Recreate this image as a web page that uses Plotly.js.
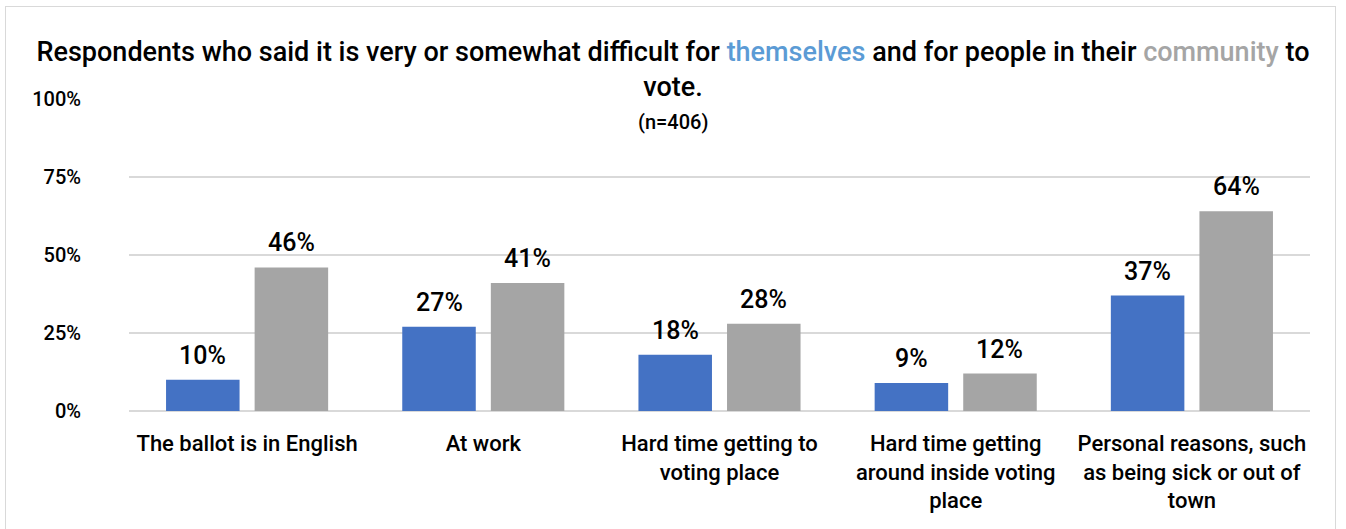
<!DOCTYPE html>
<html>
<head>
<meta charset="utf-8">
<script src="https://cdn.plot.ly/plotly-3.0.1.min.js"></script>
<style>
  html, body { margin: 0; padding: 0; background: #ffffff; }
  #wrap { position: relative; width: 1346px; height: 529px; overflow: hidden; }
  #frame { position: absolute; left: 5px; top: 6px; width: 1331px; height: 560px; border: 1.5px solid #d9d9d9; box-sizing: border-box; }
  #chart { position: absolute; left: 0; top: 0; width: 1346px; height: 529px; }
</style>
</head>
<body>
<div id="wrap"><div id="frame"></div><div id="chart"></div></div>
<script>
const categories = [
  "The ballot is in English",
  "At work",
  "Hard time getting to<br>voting place",
  "Hard time getting<br>around inside voting<br>place",
  "Personal reasons, such<br>as being sick or out of<br>town"
];
const themselves = [10, 27, 18, 9, 37];
const community = [46, 41, 28, 12, 64];
const yTicks = [0, 25, 50, 75, 100];
const yTickLabels = ["0%", "25%", "50%", "75%", "100%"];

const FONT = "Roboto, 'DejaVu Sans Condensed', sans-serif";
const W = 500;

const PLOT_W = 1181, BARGAP = 0.25, GROUPGAP = 0.17;
const slotPx = (1 - BARGAP) * (PLOT_W / categories.length) / 2;

const data = [
  { type: "bar", name: "Themselves", x: categories, y: themselves, marker: { color: "#4472C4" }, hoverinfo: "skip" },
  { type: "bar", name: "Community", x: categories, y: community, marker: { color: "#A5A5A5" }, hoverinfo: "skip" }
];

const labelAnn = [];
[themselves, community].forEach((vals, si) => {
  vals.forEach((v, i) => {
    labelAnn.push({
      x: categories[i], y: v, xref: "x", yref: "y",
      text: v + "%",
      showarrow: false,
      xanchor: "center", yanchor: "bottom",
      xshift: (si === 0 ? -1 : 1) * slotPx / 2,
      yshift: 8,
      font: { family: FONT, size: 25, color: "#000000", weight: W }
    });
  });
});

const layout = {
  width: 1346,
  height: 529,
  margin: { l: 129, r: 36, t: 99, b: 118 },
  paper_bgcolor: "rgba(0,0,0,0)",
  plot_bgcolor: "rgba(0,0,0,0)",
  showlegend: false,
  barmode: "group",
  bargap: BARGAP,
  bargroupgap: GROUPGAP,
  font: { family: FONT, color: "#000000", weight: W },
  title: {
    text: "Respondents who said it is very or somewhat difficult for <span style='color:#5B9BD5'>themselves</span> and for people in their <span style='color:#A5A5A5'>community</span> to<br>vote.",
    font: { family: FONT, size: 27, color: "#000000", weight: W },
    x: 0.5, xanchor: "center",
    y: 0.885, yanchor: "top", yref: "container"
  },
  annotations: labelAnn.concat([{
    text: "(n=406)",
    xref: "paper", yref: "paper",
    x: (673 - 129) / 1181, y: (411 - 122) / 312,
    xanchor: "center", yanchor: "middle",
    showarrow: false,
    font: { family: FONT, size: 20, color: "#000000", weight: W }
  }]),
  xaxis: {
    tickfont: { family: FONT, size: 22, color: "#000000", weight: W },
    showline: false,
    ticks: "",
    ticklabelstandoff: 17,
    automargin: false
  },
  yaxis: {
    range: [0, 100],
    tickvals: yTicks,
    ticktext: yTickLabels,
    tickfont: { family: FONT, size: 20, color: "#000000", weight: W },
    showgrid: true,
    gridcolor: "#d9d9d9",
    gridwidth: 1.5,
    zeroline: true,
    zerolinecolor: "#d9d9d9",
    zerolinewidth: 1.5,
    ticks: "",
    ticklabelstandoff: 47,
    automargin: false
  }
};

Plotly.newPlot("chart", data, layout, { displayModeBar: false, staticPlot: true });
</script>
</body>
</html>
